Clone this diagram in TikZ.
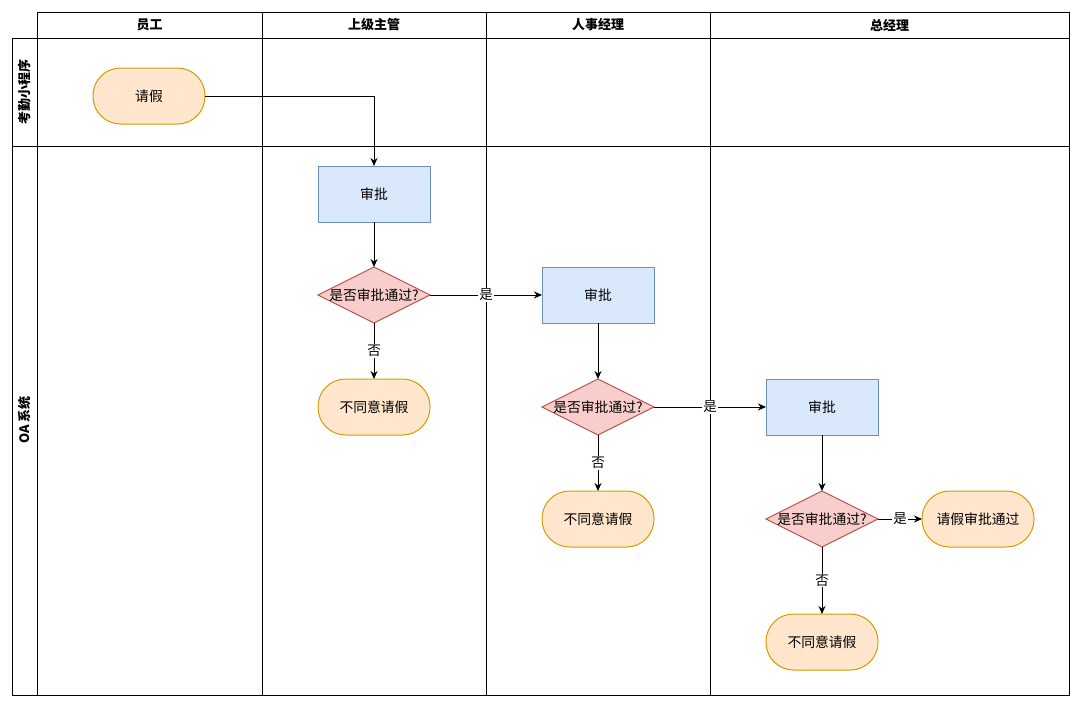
\documentclass[tikz,border=0pt]{standalone}
\usepackage{fontspec}
\setmainfont{Noto Sans CJK SC}
\usepackage{xcolor}
\usepackage{tikz}
\usetikzlibrary{shapes.geometric, positioning, arrows.meta}

\definecolor{termfill}{HTML}{FFE6CC}
\definecolor{termdraw}{HTML}{D79B00}
\definecolor{procfill}{HTML}{DAE8FC}
\definecolor{procdraw}{HTML}{6C8EBF}
\definecolor{decfill}{HTML}{F8CECC}
\definecolor{decdraw}{HTML}{B85450}

\tikzset{
  term/.style={draw=termdraw, fill=termfill, rounded corners=27.5pt, minimum width=112pt, minimum height=56pt, inner sep=0pt, outer sep=0pt, line width=1pt},
  proc/.style={draw=procdraw, fill=procfill, minimum width=112pt, minimum height=56pt, inner sep=0pt, outer sep=0pt, line width=1pt},
  dec/.style={diamond, draw=decdraw, fill=decfill, minimum width=112pt, minimum height=56pt, inner sep=0pt, outer sep=0pt, line width=1pt},
  head/.style={font=\bfseries\fontsize{13}{15}\selectfont},
  arr/.style={-{Stealth[length=8pt,width=7pt]}, line width=1pt},
  lbl/.style={fill=white, inner sep=1pt, font=\fontsize{13.5}{15}\selectfont},
}

\begin{document}
\begin{tikzpicture}[x=1pt, y=-1pt, font=\fontsize{13.8}{16}\selectfont]
			\useasboundingbox (0,0) rectangle (1080,707);
			% swimlanes
			\draw[line width=1pt] (37,12) rectangle (1069,695);
			\draw[line width=1pt] (12,38) rectangle (37,695);
			\draw[line width=1pt] (37,38) -- (1069,38);
			\draw[line width=1pt] (12,146) -- (1069,146);
			\foreach \x in {262,486,710} \draw[line width=1pt] (\x,12) -- (\x,695);
			\node[head] (h1) at (149.5,25) {员工};
			\node[head] (h2) at (374,25) {上级主管};
			\node[head] (h3) at (598,25) {人事经理};
			\node[head] (h4) at (889.5,25) {总经理};
			\node[head, rotate=90] (r1) at (24.5,92) {考勤小程序};
			\node[head, rotate=90] (r2) at (24.5,420) {OA 系统};
			% flow
			\node[term] (qj) at (149,96) {请假};
			\node[proc] (sp1) at (374,194) {审批};
			\node[dec, below = 45pt of sp1, label=center:{是否审批通过?}] (d1) {};
			\node[term, below = 56pt of d1] (no1) {不同意请假};
			\node[proc, right = 112pt of d1] (sp2) {审批};
			\node[dec, below = 56pt of sp2, label=center:{是否审批通过?}] (d2) {};
			\node[term, below = 56pt of d2] (no2) {不同意请假};
			\node[proc, right = 112pt of d2] (sp3) {审批};
			\node[dec, below = 56pt of sp3, label=center:{是否审批通过?}] (d3) {};
			\node[term, right = 44pt of d3] (ok) {请假审批通过};
			\node[term, below = 67pt of d3] (no3) {不同意请假};
			\draw[arr] (qj.east) -| (sp1.north);
			\draw[arr] (sp1) -- (d1);
			\draw[arr] (d1) -- node[lbl]{是} (sp2);
			\draw[arr] (d1) -- node[lbl]{否} (no1);
			\draw[arr] (sp2) -- (d2);
			\draw[arr] (d2) -- node[lbl]{是} (sp3);
			\draw[arr] (d2) -- node[lbl]{否} (no2);
			\draw[arr] (sp3) -- (d3);
			\draw[arr] (d3) -- node[lbl]{是} (ok);
			\draw[arr] (d3) -- node[lbl]{否} (no3);
		\end{tikzpicture}
\end{document}
